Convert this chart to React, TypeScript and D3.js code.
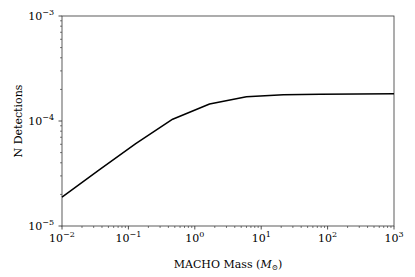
import React, { useEffect, useRef } from "react";
import * as d3 from "d3";

// MACHO mass grid (log-spaced) and detection counts
const masses = [0.01, 0.0359, 0.129, 0.464, 1.668, 5.995, 21.54, 77.43, 278.3, 1000];
const detections = [1.88e-5, 3.4e-5, 6.1e-5, 1.04e-4, 1.45e-4, 1.7e-4, 1.78e-4, 1.8e-4, 1.81e-4, 1.82e-4];
const xTickExps = [-2, -1, 0, 1, 2, 3];
const yTickExps = [-5, -4, -3];

const FONT = "DejaVu Serif, serif";

const App: React.FC = () => {
  const ref = useRef<SVGSVGElement>(null);

  useEffect(() => {
    const svg = d3.select(ref.current);
    svg.selectAll("*").remove();
    const margin = { top: 16, right: 21, bottom: 51, left: 62 };
    const W = 415, H = 277;
    const width = W - margin.left - margin.right;
    const height = H - margin.top - margin.bottom;

    const x = d3.scaleLog().domain([1e-2, 1e3]).range([0, width]);
    const y = d3.scaleLog().domain([1e-5, 1e-3]).range([height, 0]);

    const g = svg.append("g").attr("transform", `translate(${margin.left},${margin.top})`);

    // minor ticks
    const minorX: number[] = [];
    for (let e = -2; e < 3; e++) for (let k = 2; k < 10; k++) minorX.push(k * Math.pow(10, e));
    const minorY: number[] = [];
    for (let e = -5; e < -3; e++) for (let k = 2; k < 10; k++) minorY.push(k * Math.pow(10, e));

    const tickColor = "#222";
    g.selectAll(".mx").data(minorX).enter().append("line")
      .attr("x1", (d) => x(d)).attr("x2", (d) => x(d))
      .attr("y1", height).attr("y2", height + 2)
      .attr("stroke", tickColor).attr("stroke-width", 0.6);
    g.selectAll(".my").data(minorY).enter().append("line")
      .attr("y1", (d) => y(d)).attr("y2", (d) => y(d))
      .attr("x1", 0).attr("x2", -2)
      .attr("stroke", tickColor).attr("stroke-width", 0.6);

    // major ticks + labels
    xTickExps.forEach((e) => {
      const px = x(Math.pow(10, e));
      g.append("line").attr("x1", px).attr("x2", px).attr("y1", height).attr("y2", height + 3.5)
        .attr("stroke", tickColor).attr("stroke-width", 0.8);
      const t = g.append("text").attr("x", px).attr("y", height + 15.5)
        .attr("text-anchor", "middle").attr("font-family", FONT).attr("font-size", 11).attr("fill", "#000");
      t.append("tspan").text("10");
      t.append("tspan").attr("dy", -5).attr("font-size", 8).text(e < 0 ? `\u2212${-e}` : `${e}`);
    });
    yTickExps.forEach((e) => {
      const py = y(Math.pow(10, e));
      g.append("line").attr("y1", py).attr("y2", py).attr("x1", 0).attr("x2", -3.5)
        .attr("stroke", tickColor).attr("stroke-width", 0.8);
      const t = g.append("text").attr("x", -8).attr("y", py + 4)
        .attr("text-anchor", "end").attr("font-family", FONT).attr("font-size", 11).attr("fill", "#000");
      t.append("tspan").text("10");
      t.append("tspan").attr("dy", -5).attr("font-size", 8).text(`\u2212${-e}`);
    });

    // frame
    g.append("rect").attr("x", 0).attr("y", 0).attr("width", width).attr("height", height)
      .attr("fill", "none").attr("stroke", "#333").attr("stroke-width", 0.8);

    // line
    const line = d3.line<number>()
      .x((_, i) => x(masses[i]))
      .y((d) => y(d));
    g.append("path").datum(detections).attr("d", line)
      .attr("fill", "none").attr("stroke", "#000").attr("stroke-width", 1.5)
      .attr("stroke-linejoin", "round");

    // axis titles
    const xt = svg.append("text").attr("x", margin.left + width / 2).attr("y", 268)
      .attr("text-anchor", "middle").attr("font-family", FONT).attr("font-size", 11).attr("fill", "#000");
    xt.append("tspan").text("MACHO Mass (");
    xt.append("tspan").attr("font-style", "italic").text("M");
    xt.append("tspan").attr("font-size", 7.5).attr("dy", 2).text("\u2299");
    xt.append("tspan").attr("dy", -2).text(")");

    svg.append("text")
      .attr("transform", `translate(22,${margin.top + height / 2})rotate(-90)`)
      .attr("text-anchor", "middle").attr("font-family", FONT).attr("font-size", 11).attr("fill", "#000")
      .text("N Detections");
  }, []);

  return (
    <div style={{ position: "absolute", left: 0, top: 0 }}>
      <svg ref={ref} width={415} height={277} style={{ display: "block", background: "#fff" }} />
    </div>
  );
};

export default App;
